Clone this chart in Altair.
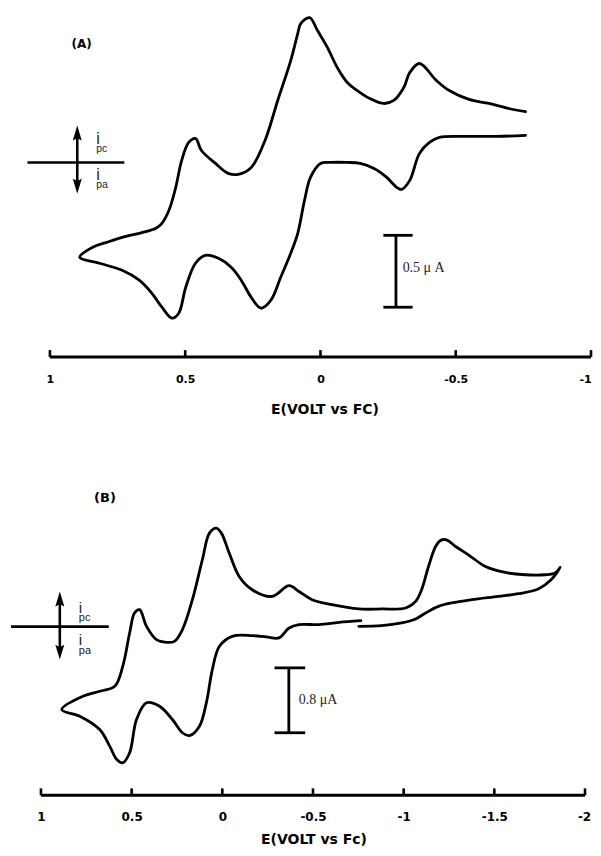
import altair as alt
import pandas as pd

# ---------------- Panel A : cyclic voltammogram (E in V vs Fc, I in uA) ----------------
A_E = [-0.758, -0.696, -0.623, -0.549, -0.476, -0.429, -0.366, -0.330, -0.308, -0.271,
       -0.234, -0.183, -0.136, -0.099, -0.062, -0.026, 0.011, 0.040, 0.073, 0.084,
       0.110, 0.158, 0.205, 0.256, 0.304, 0.341, 0.388, 0.440, 0.462, 0.487,
       0.513, 0.535, 0.560, 0.586, 0.608, 0.670, 0.733, 0.791, 0.842, 0.890,
       0.817, 0.733, 0.670, 0.623, 0.586, 0.549, 0.524, 0.498, 0.462, 0.425,
       0.377, 0.330, 0.293, 0.256, 0.220, 0.183, 0.147, 0.110, 0.084, 0.059,
       0.037, 0.000, -0.037, -0.099, -0.147, -0.198, -0.245, -0.282, -0.300, -0.330,
       -0.366, -0.403, -0.440, -0.527, -0.648, -0.758]
A_I = [0.354, 0.375, 0.410, 0.438, 0.500, 0.569, 0.688, 0.625, 0.521, 0.431,
       0.410, 0.444, 0.500, 0.556, 0.660, 0.799, 0.917, 1.007, 0.965, 0.896,
       0.708, 0.431, 0.153, -0.035, -0.083, -0.076, -0.007, 0.083, 0.167, 0.139,
       0.014, -0.174, -0.333, -0.424, -0.458, -0.493, -0.521, -0.556, -0.590, -0.660,
       -0.701, -0.750, -0.819, -0.910, -1.007, -1.083, -1.049, -0.868, -0.701, -0.646,
       -0.667, -0.729, -0.819, -0.938, -1.014, -0.958, -0.799, -0.632, -0.493, -0.264,
       -0.104, -0.007, 0.000, 0.000, -0.007, -0.042, -0.104, -0.174, -0.188, -0.125,
       0.063, 0.139, 0.174, 0.181, 0.181, 0.188]

# ---------------- Panel B ----------------
B_E = [-0.753, -0.879, -0.989, -1.066, -1.121, -1.192, -1.264, -1.374, -1.522, -1.632,
       -1.742, -1.813, -1.863,
       -1.835, -1.780, -1.670, -1.560, -1.451, -1.357, -1.286, -1.236, -1.203, -1.176,
       -1.137, -1.099, -1.066, -1.011, -0.879, -0.753, -0.604, -0.495, -0.423,
       -0.368, -0.275, -0.165, -0.093, -0.038, 0.005, 0.033, 0.071, 0.110, 0.165,
       0.220, 0.264, 0.308, 0.363, 0.418, 0.456, 0.484, 0.511, 0.549, 0.593,
       0.676, 0.769, 0.885,
       0.786, 0.676, 0.621, 0.582, 0.549, 0.511, 0.473, 0.418, 0.346, 0.275,
       0.220, 0.181, 0.126, 0.088, 0.055, 0.016, -0.055, -0.165, -0.242, -0.313,
       -0.368, -0.423, -0.533, -0.643, -0.764]
B_I = [0.004, 0.012, 0.046, 0.095, 0.169, 0.250, 0.292, 0.332, 0.373, 0.406,
       0.464, 0.578, 0.730,
       0.661, 0.640, 0.640, 0.668, 0.742, 0.886, 0.988, 1.071, 1.062, 0.988,
       0.742, 0.455, 0.311, 0.230, 0.218, 0.218, 0.271, 0.332, 0.434,
       0.505, 0.373, 0.455, 0.619, 0.907, 1.153, 1.215, 1.153, 0.825, 0.332,
       -0.037, -0.181, -0.193, -0.160, 0.004, 0.209, 0.169, -0.078, -0.489, -0.735,
       -0.796, -0.858, -1.022,
       -1.104, -1.268, -1.473, -1.637, -1.678, -1.554, -1.145, -0.939, -0.981, -1.145,
       -1.308, -1.342, -1.227, -0.939, -0.529, -0.242, -0.119, -0.111, -0.127, -0.139,
       -0.016, 0.025, 0.025, 0.053, 0.074]

# axes
A_TICKS = [1, 0.5, 0, -0.5, -1]
B_TICKS = [1, 0.5, 0, -0.5, -1, -1.5, -2]
A_AXIS_RANGE = [1, -1]
B_AXIS_RANGE = [1, -2]
A_TITLE = "E(VOLT vs FC)"
B_TITLE = "E(VOLT vs Fc)"

# annotations (data coordinates: E in V, I in uA)
A_PANEL = {"text": "(A)", "E": 0.883, "I": 0.821}
B_PANEL = {"text": "(B)", "E": 0.647, "I": 1.59}
A_ARROW = {"E": 0.899, "top": 0.205, "bot": -0.165, "s1": 0.19, "s2": -0.15,
           "h1": 1.083, "h2": 0.725, "h": 0.0}
B_ARROW = {"E": 0.896, "top": 0.342, "bot": -0.314, "s1": 0.30, "s2": -0.27,
           "h1": 1.165, "h2": 0.626, "h": 0.0}
A_ILAB = {"E": 0.829, "i_up": 0.130, "pc": 0.072, "i_dn": -0.120, "pa": -0.181}
B_ILAB = {"E": 0.791, "i_up": 0.169, "pc": 0.065, "i_dn": -0.230, "pa": -0.336}
A_BAR = {"E": -0.279, "c1": -0.2325, "c2": -0.3406, "I1": -0.507, "I2": -1.007,
         "text": "0.5 \u03bc A", "tE": -0.3037, "tI": -0.762}
B_BAR = {"E": -0.3668, "c1": -0.288, "c2": -0.457, "I1": -0.508, "I2": -1.308,
         "text": "0.8 \u03bcA", "tE": -0.4218, "tI": -0.951}

UP = "M0,-1L0.6,1L0,0.7L-0.6,1Z"
DOWN = "M0,1L0.6,-1L0,-0.7L-0.6,-1Z"


def panel(E, I, ticks, rng, title, xdom, ydom, W, H, lab_size, title_x, title_y,
          plab, arrow, ilab, bar, i_size, sub_size, plab_size, last_off):
    xs = alt.Scale(domain=xdom, reverse=True, nice=False, zero=False)
    ys = alt.Scale(domain=ydom, nice=False, zero=False)
    df = pd.DataFrame({"E": E, "I": I, "idx": list(range(len(E)))})

    axis = alt.Axis(values=ticks, labelExpr="toString(datum.value)", domain=False,
                    ticks=False, tickSize=0, grid=False, labelFont="DejaVu Sans",
                    labelFontWeight="bold", labelFontSize=lab_size, labelColor="black",
                    labelPadding=16, labelFlush=False, labelOverlap=False,
                    labelOffset={"condition": {"test": f"datum.value == {rng[1]}",
                                               "value": last_off}, "value": 0},
                    title=title, titleFont="DejaVu Sans", titleFontWeight="bold",
                    titleFontSize=14, titleColor="black", titleX=title_x, titleY=title_y,
                    titleBaseline="alphabetic", titleAlign="center")

    xn = lambda f: alt.X(f, scale=xs, axis=axis)
    yn = lambda f: alt.Y(f, scale=ys, axis=None)

    curve = alt.Chart(df).mark_line(color="black", strokeWidth=2.8, strokeJoin="round",
                                    strokeCap="round", interpolate="catmull-rom").encode(
        x=xn("E:Q"), y=yn("I:Q"), order="idx:Q")

    axline = alt.Chart(pd.DataFrame({"a": [rng[0]], "b": [rng[1]]})).mark_rule(
        color="black", strokeWidth=3).encode(x=xn("a:Q"), x2="b:Q", y=alt.value(H))
    tickm = alt.Chart(pd.DataFrame({"t": ticks})).mark_rule(
        color="black", strokeWidth=2.6).encode(x=xn("t:Q"), y=alt.value(H - 7), y2=alt.value(H))

    pl = alt.Chart(pd.DataFrame([plab])).mark_text(
        font="DejaVu Sans", fontWeight="bold", fontSize=plab_size, color="black",
        baseline="middle", align="center").encode(x=xn("E:Q"), y=yn("I:Q"), text="text:N")

    ad = pd.DataFrame([arrow])
    shaft = alt.Chart(ad).mark_rule(color="black", strokeWidth=2.6).encode(
        x=xn("E:Q"), y=yn("s1:Q"), y2="s2:Q")
    hline = alt.Chart(ad).mark_rule(color="black", strokeWidth=2.6).encode(
        x=xn("h1:Q"), x2="h2:Q", y=yn("h:Q"))
    head_up = alt.Chart(ad).mark_point(shape=UP, filled=True, size=225, color="black",
                                       opacity=1).encode(x=xn("E:Q"), y=yn("top:Q"))
    head_dn = alt.Chart(ad).mark_point(shape=DOWN, filled=True, size=225, color="black",
                                       opacity=1).encode(x=xn("E:Q"), y=yn("bot:Q"))

    ld = pd.DataFrame([
        {"E": ilab["E"], "I": ilab["i_up"], "t": "i", "s": "big"},
        {"E": ilab["E"], "I": ilab["i_dn"], "t": "i", "s": "big"},
        {"E": ilab["E"], "I": ilab["pc"], "t": "pc", "s": "sub"},
        {"E": ilab["E"], "I": ilab["pa"], "t": "pa", "s": "sub"},
    ])
    ibig = alt.Chart(ld).transform_filter("datum.s == 'big'").mark_text(
        font="Liberation Sans", fontSize=i_size, color="#222", align="left",
        baseline="alphabetic").encode(x=xn("E:Q"), y=yn("I:Q"), text="t:N")
    isub = alt.Chart(ld).transform_filter("datum.s == 'sub'").mark_text(
        font="Liberation Sans", fontSize=sub_size, color="#222", align="left",
        baseline="alphabetic").encode(x=xn("E:Q"), y=yn("I:Q"), text="t:N")

    bd = pd.DataFrame([bar])
    bv = alt.Chart(bd).mark_rule(color="black", strokeWidth=2.8).encode(
        x=xn("E:Q"), y=yn("I1:Q"), y2="I2:Q")
    bc1 = alt.Chart(bd).mark_rule(color="black", strokeWidth=2.8).encode(
        x=xn("c1:Q"), x2="c2:Q", y=yn("I1:Q"))
    bc2 = alt.Chart(bd).mark_rule(color="black", strokeWidth=2.8).encode(
        x=xn("c1:Q"), x2="c2:Q", y=yn("I2:Q"))
    bt = alt.Chart(bd).mark_text(font="Liberation Serif", fontSize=14, color="#222",
                                 align="left", baseline="alphabetic").encode(
        x=xn("tE:Q"), y=yn("tI:Q"), text="text:N")

    return alt.layer(curve, axline, tickm, pl, shaft, hline, head_up, head_dn,
                     ibig, isub, bv, bc1, bc2, bt).properties(width=W, height=H)


W = 585
HA = 349
HB = 340

pA = panel(A_E, A_I, A_TICKS, A_AXIS_RANGE, A_TITLE, [-1.0037, 1.155], [-1.354, 1.069],
           W, HA, 11, 317, 56, A_PANEL, A_ARROW, A_ILAB, A_BAR, 16, 10.5, 12, -6)
pB = panel(B_E, B_I, B_TICKS, B_AXIS_RANGE, B_TITLE, [-2.0385, 1.1817], [-2.080, 2.1046],
           W, HB, 12, 306, 48, B_PANEL, B_ARROW, B_ILAB, B_BAR, 15, 11, 13, -1)

chart = alt.vconcat(pA, pB, spacing=40).configure_view(stroke=None).properties(
    padding=0, background="white")

chart.save("out.html", embed_options={"renderer": "svg", "actions": False})
